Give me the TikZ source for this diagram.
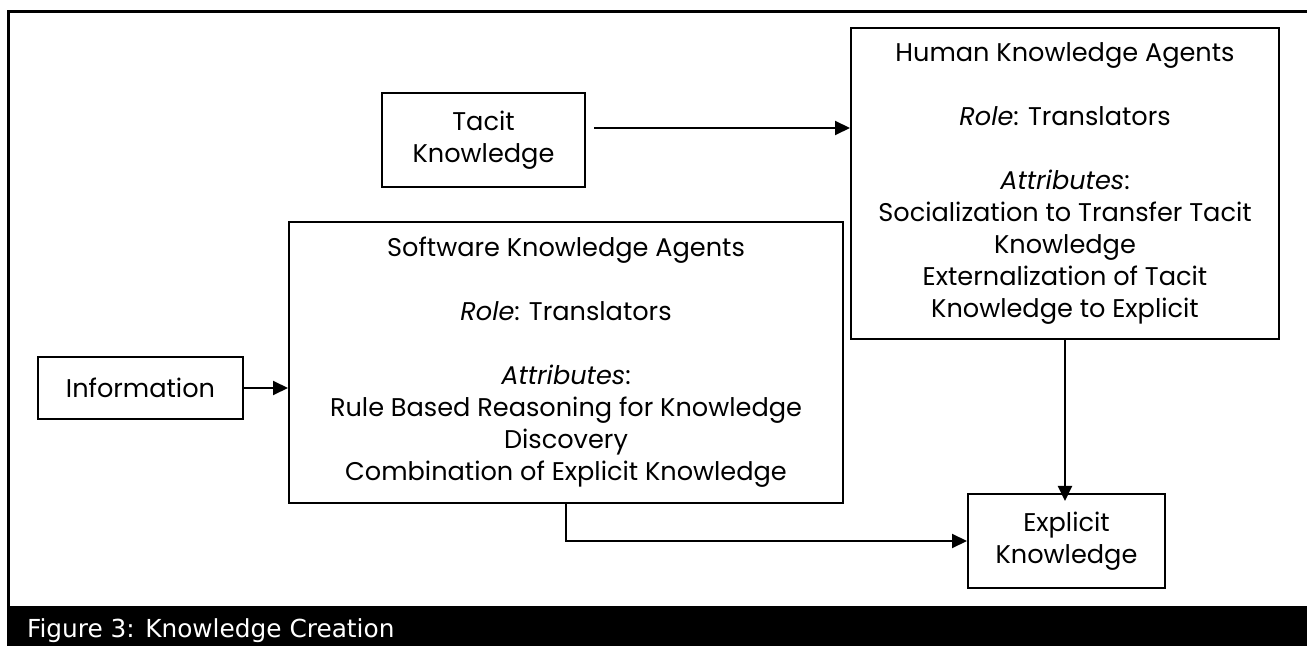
\documentclass[tikz,border=0pt]{standalone}
\usepackage{fontspec}
\setmainfont{Poppins}
\newfontfamily\capfont{DejaVu Sans}
\usetikzlibrary{arrows.meta}

\begin{document}
\begin{tikzpicture}[x=0.5pt,y=-0.5pt,
        box/.style={draw,line width=1pt,align=center,inner sep=0pt,font=\fontsize{12.8}{16}\selectfont},
        arr/.style={line width=1pt,-{Triangle[length=7.5pt,width=7pt]}}]
    \useasboundingbox (0,0) rectangle (1307,646);
    \draw[line width=1.5pt] (1307,12) -- (8,12) -- (8,606);
    \fill (7,606) rectangle (1307,646);
    \node[anchor=base west,text=white,font=\capfont\fontsize{12.4}{14}\selectfont] (cap) at (20,637) {Figure 3: Knowledge Creation};

    \node[box,minimum width=101.5pt,minimum height=47pt] (tacit) at (483.5,140) {Tacit\\Knowledge};
    \node[box,minimum width=214pt,minimum height=155.5pt] (human) at (1065,183.5) {Human Knowledge Agents\\[16pt]
        \textit{Role}: Translators\\[16pt]
        \textit{Attributes}:\\
        Socialization to Transfer Tacit\\
        Knowledge\\
        Externalization of Tacit\\
        Knowledge to Explicit};
    \node[box,minimum width=277pt,minimum height=140.5pt] (soft) at (566,362.5) {Software Knowledge Agents\\[16pt]
        \textit{Role}: Translators\\[16pt]
        \textit{Attributes}:\\
        Rule Based Reasoning for Knowledge\\
        Discovery\\
        Combination of Explicit Knowledge};
    \node[box,minimum width=102.5pt,minimum height=31pt] (info) at (140.5,388) {Information};
    \node[box,minimum width=98.5pt,minimum height=47pt] (expl) at (1066.5,541) {Explicit\\Knowledge};

    \draw[arr] ([shift={(4pt,6pt)}]tacit.east) -- ([yshift=6pt]tacit.east -| human.west);
    \draw[arr] (info.east) -- (info.east -| soft.west);
    \draw[arr] (soft.south) |- (expl.west);
    \draw[arr,shorten >=-4pt] (human.south) -- (human.south |- expl.north);
\end{tikzpicture}
\end{document}
